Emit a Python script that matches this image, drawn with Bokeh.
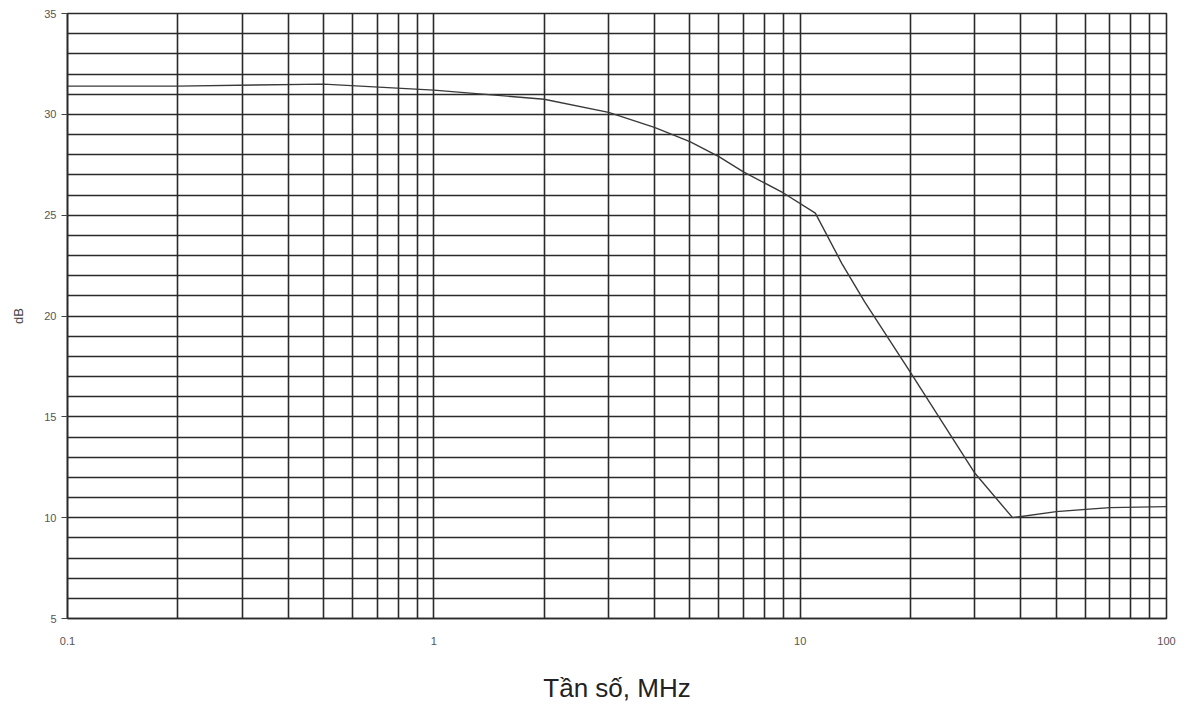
from bokeh.plotting import figure
from bokeh.models import Range1d, FixedTicker, NumeralTickFormatter
from bokeh.embed import file_html
from bokeh.resources import INLINE

# data
freq_mhz = [0.1, 0.2, 0.5, 1, 2, 3, 4, 5, 6, 7, 9, 11, 13, 15, 20, 30, 38, 50, 70, 100]
gain_db = [31.4, 31.4, 31.5, 31.2, 30.75, 30.1, 29.35, 28.65, 27.9, 27.15, 26.1, 25.1,
           22.6, 20.7, 17.2, 12.2, 10.0, 10.3, 10.5, 10.55]

x_major = [0.1, 1, 10, 100]
x_minor = [m * d for d in [0.1, 1, 10] for m in range(2, 10)]
y_major = [5, 10, 15, 20, 25, 30, 35]
y_minor = [v for v in range(5, 36) if v % 5 != 0]

x_title = "Tần số, MHz"
y_title = "dB"

p = figure(width=1179, height=705, x_axis_type="log",
           x_range=Range1d(0.1, 100), y_range=Range1d(5, 35),
           output_backend="svg", toolbar_location=None,
           min_border_left=67, min_border_top=13, min_border_right=13, min_border_bottom=80)

p.xaxis.ticker = FixedTicker(ticks=x_major, minor_ticks=x_minor)
p.yaxis.ticker = FixedTicker(ticks=y_major, minor_ticks=y_minor)
p.xaxis.formatter = NumeralTickFormatter(format="0.[0]")

grid_col = "#2a2a2a"
for g in (p.xgrid, p.ygrid):
    g.grid_line_color = grid_col
    g.grid_line_width = 1.6
    g.minor_grid_line_color = grid_col
    g.minor_grid_line_width = 1.6

p.outline_line_color = grid_col
p.outline_line_width = 1.6

for ax in (p.xaxis, p.yaxis):
    ax.axis_line_color = grid_col
    ax.axis_line_width = 1.6
    ax.major_tick_line_color = "#444444"
    ax.major_tick_out = 6
    ax.major_tick_in = 0
    ax.minor_tick_line_color = None
    ax.major_label_text_color = "#555555"
    ax.major_label_text_font = "Liberation Sans"
    ax.major_label_text_font_size = "11px"

p.xaxis.major_tick_line_color = None
p.xaxis.major_label_standoff = 12
p.yaxis.major_label_standoff = 5

p.xaxis.axis_label = x_title
p.xaxis.axis_label_text_font = "Liberation Sans"
p.xaxis.axis_label_text_font_size = "26px"
p.xaxis.axis_label_text_font_style = "normal"
p.xaxis.axis_label_text_color = "#222222"
p.xaxis.axis_label_standoff = 25

p.yaxis.axis_label = y_title
p.yaxis.axis_label_text_font = "Liberation Sans"
p.yaxis.axis_label_text_font_size = "13px"
p.yaxis.axis_label_text_font_style = "normal"
p.yaxis.axis_label_text_color = "#444444"
p.yaxis.axis_label_standoff = 15

p.line(freq_mhz, gain_db, line_color="#3a3a3a", line_width=1.4)

open("out.html", "w").write(file_html(p, INLINE))
